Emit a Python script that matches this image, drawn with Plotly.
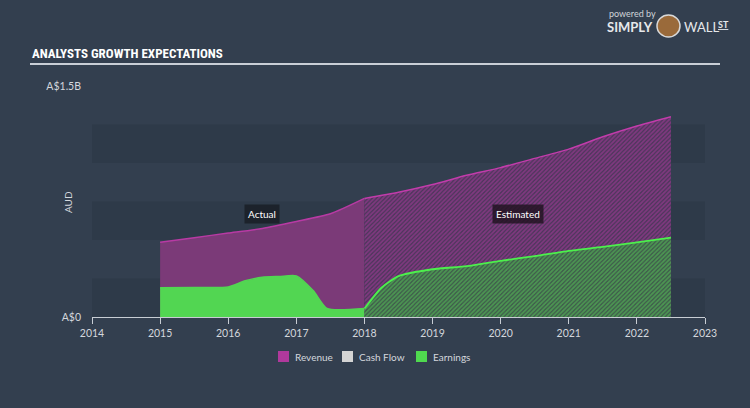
import plotly.graph_objects as go

# ---------------- data (values in A$ billions) ----------------
years_rev_actual = [2015.0, 2015.5, 2016.0, 2016.5, 2017.0, 2017.5, 2018.0]
rev_actual = [0.485, 0.515, 0.545, 0.575, 0.62, 0.67, 0.77]

years_earn_actual = [2015.0, 2015.5, 2016.0, 2016.25, 2016.5, 2016.75, 2017.0, 2017.25, 2017.45, 2018.0]
earn_actual = [0.19, 0.192, 0.195, 0.235, 0.258, 0.263, 0.267, 0.17, 0.055, 0.055]

years_rev_est = [2018.0, 2018.5, 2019.0, 2019.5, 2020.0, 2020.5, 2021.0, 2021.5, 2022.0, 2022.5]
rev_est = [0.77, 0.81, 0.86, 0.92, 0.97, 1.03, 1.09, 1.17, 1.24, 1.30]

years_earn_est = [2018.0, 2018.25, 2018.5, 2019.0, 2019.5, 2020.0, 2020.5, 2021.0, 2021.5, 2022.0, 2022.5]
earn_est = [0.055, 0.19, 0.265, 0.31, 0.33, 0.365, 0.395, 0.43, 0.455, 0.485, 0.515]

x_ticks = [2014, 2015, 2016, 2017, 2018, 2019, 2020, 2021, 2022, 2023]
band_edges = [0, 0.25, 0.5, 0.75, 1.0, 1.25]
legend_names = ["Revenue", "Cash Flow", "Earnings"]
legend_colors = ["#b0399c", "#d4d4d4", "#4fd94f"]

B = 1e9
FONT = "Lato, Open Sans, sans-serif"
TITLE_FONT = ("Roboto Condensed, Open Sans Condensed, DejaVu Sans Condensed, "
              "Liberation Sans Narrow, Arial Narrow, sans-serif")
BG = "#333f4f"
TXT = "#d3d7dd"

W, H = 750, 408
L, R, T, BOT = 92, 705, 86, 317


def px_x(p):
    return (p - L) / (R - L)


def px_y(p):
    return (BOT - p) / (BOT - T)


fig = go.Figure()

# Revenue actual
fig.add_trace(go.Scatter(
    x=years_rev_actual, y=[v * B for v in rev_actual], fill="tozeroy",
    fillcolor="#7b3a78", line=dict(color="#b83aa4", width=1.5, shape="spline", smoothing=0.6),
    mode="lines", hoverinfo="skip", showlegend=False))
# Revenue estimated (hatched)
fig.add_trace(go.Scatter(
    x=years_rev_est, y=[v * B for v in rev_est], fill="tozeroy",
    fillcolor="#4a3659",
    fillpattern=dict(shape="/", fgcolor="#b53ba6", bgcolor="#4a3659", size=3, solidity=0.6),
    line=dict(color="#c23cab", width=1.5, shape="spline", smoothing=0.6),
    mode="lines", hoverinfo="skip", showlegend=False))
# Earnings actual
fig.add_trace(go.Scatter(
    x=years_earn_actual, y=[v * B for v in earn_actual], fill="tozeroy",
    fillcolor="#52d652", line=dict(color="#52d652", width=1.5, shape="spline", smoothing=0.6),
    mode="lines", hoverinfo="skip", showlegend=False))
# Earnings estimated (hatched)
fig.add_trace(go.Scatter(
    x=years_earn_est, y=[v * B for v in earn_est], fill="tozeroy",
    fillcolor="#3e584b",
    fillpattern=dict(shape="/", fgcolor="#5ad45a", bgcolor="#3e584b", size=3, solidity=0.6),
    line=dict(color="#4cf04c", width=1.8, shape="spline", smoothing=0.6),
    mode="lines", hoverinfo="skip", showlegend=False))

shapes = []
# horizontal bands (darker ones)
for i in range(0, len(band_edges) - 1):
    if i % 2 == 0:
        shapes.append(dict(type="rect", xref="paper", yref="y", x0=0, x1=1,
                           y0=band_edges[i] * B, y1=band_edges[i + 1] * B,
                           fillcolor="#2e3a49", line=dict(width=0), layer="below"))
# title underline
shapes.append(dict(type="line", xref="paper", yref="paper",
                   x0=px_x(30), x1=px_x(720), y0=px_y(64), y1=px_y(64),
                   line=dict(color="#c9ced6", width=2)))
# bull logo circle
shapes.append(dict(type="circle", xref="paper", yref="paper",
                   x0=px_x(657), x1=px_x(680), y0=px_y(15), y1=px_y(37),
                   fillcolor="#9a6a3a", line=dict(color="#d9d9d9", width=1.5)))

annotations = []
annotations.append(dict(text="ANALYSTS GROWTH EXPECTATIONS", xref="paper", yref="paper",
                        x=px_x(30), y=px_y(53), xanchor="left", yanchor="middle",
                        showarrow=False,
                        font=dict(family=TITLE_FONT, size=13, color="#ffffff", weight="bold")))
# logo text
annotations.append(dict(text="powered by", xref="paper", yref="paper", x=px_x(607), y=px_y(14),
                        xanchor="left", yanchor="middle", showarrow=False,
                        font=dict(family=FONT, size=9, color="#cfd3d8")))
annotations.append(dict(text="<b>SIMPLY</b>", xref="paper", yref="paper", x=px_x(655), y=px_y(27),
                        xanchor="right", yanchor="middle", showarrow=False,
                        font=dict(family=FONT, size=13, color="#e6e8eb")))
annotations.append(dict(text="WALL", xref="paper", yref="paper", x=px_x(682), y=px_y(27),
                        xanchor="left", yanchor="middle", showarrow=False,
                        font=dict(family=FONT, size=13, color="#e6e8eb")))
annotations.append(dict(text="<b><u>ST</u></b>", xref="paper", yref="paper", x=px_x(716), y=px_y(25),
                        xanchor="left", yanchor="middle", showarrow=False,
                        font=dict(family=FONT, size=9, color="#e6e8eb")))
# AUD axis label
annotations.append(dict(text="AUD", xref="paper", yref="paper", x=px_x(68), y=px_y(202),
                        xanchor="center", yanchor="middle", textangle=-90, showarrow=False,
                        font=dict(family=FONT, size=10, color=TXT)))
# Actual / Estimated
annotations.append(dict(text="Actual", x=2016.5, y=0.67 * B, showarrow=False,
                        bgcolor="rgba(25,30,38,0.85)", borderpad=3,
                        font=dict(family=FONT, size=10, color="#ffffff")))
annotations.append(dict(text="Estimated", x=2020.25, y=0.67 * B, showarrow=False,
                        bgcolor="rgba(30,18,30,0.8)", borderpad=3,
                        font=dict(family=FONT, size=10, color="#ffffff")))

# legend (manual)
leg_x = [278, 342, 416]
for name, col, lx in zip(legend_names, legend_colors, leg_x):
    shapes.append(dict(type="rect", xref="paper", yref="paper",
                       x0=px_x(lx), x1=px_x(lx + 11), y0=px_y(351), y1=px_y(362),
                       fillcolor=col, line=dict(width=0)))
    annotations.append(dict(text=name, xref="paper", yref="paper", x=px_x(lx + 15), y=px_y(356.5),
                            xanchor="left", yanchor="middle", showarrow=False,
                            font=dict(family=FONT, size=10, color=TXT)))

fig.update_layout(
    width=W, height=H,
    margin=dict(l=L, r=W - R, t=T, b=H - BOT),
    paper_bgcolor=BG, plot_bgcolor=BG,
    shapes=shapes, annotations=annotations,
    showlegend=False,
    xaxis=dict(range=[2014, 2023], tickvals=x_ticks, ticktext=[str(t) for t in x_ticks],
               showgrid=False, zeroline=False, showline=True, linecolor="#c8cdd4", linewidth=1,
               ticks="outside", ticklen=6, tickcolor="#c8cdd4", tickwidth=1,
               tickfont=dict(family=FONT, size=10.5, color=TXT), fixedrange=True),
    yaxis=dict(range=[0, 1.5 * B], tickvals=[0, 1.5 * B], ticktext=["A$0", "A$1.5B"],
               showgrid=False, zeroline=False, showline=False, ticks="",
               ticklabelstandoff=10,
               tickfont=dict(family=FONT, size=10.5, color=TXT), fixedrange=True),
)

fig.write_html("out.html")
